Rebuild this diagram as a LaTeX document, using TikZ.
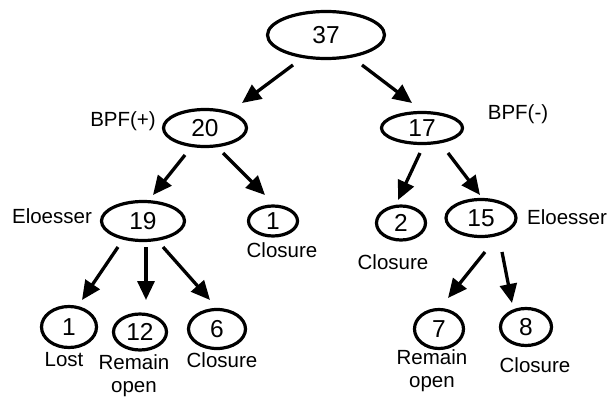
\documentclass[tikz,border=0pt]{standalone}
\usepackage{fontspec}
\setmainfont{Liberation Sans}
\usetikzlibrary{arrows.meta,calc,shapes.geometric}

\tikzset{
  count/.style={draw, ellipse, line width=3.2pt, inner sep=0pt,
    font=\fontsize{24.5}{24}\selectfont},
  lbl/.style={inner sep=0pt, align=center,
    font=\fontsize{20.5}{23}\selectfont},
  arr/.style={line width=3.3pt,
    -{Triangle[length=19pt,width=17pt]}},
}

\begin{document}
\begin{tikzpicture}[x=1pt,y=-1pt]
\useasboundingbox (0,0) rectangle (610,401);

% outcome counts
\node[count, minimum width=117pt, minimum height=47pt] (n37) at (326,35) {37};
\node[count, minimum width=83pt, minimum height=37pt] (n20) at (205,128) {20};
\node[count, minimum width=81pt, minimum height=31pt] (n17) at (422,128) {17};
\node[count, minimum width=83pt, minimum height=39pt] (n19) at (143,221) {19};
\node[count, minimum width=49pt, minimum height=30pt] (n1a) at (273,221) {1};
\node[count, minimum width=49pt, minimum height=34pt] (n2) at (401,223) {2};
\node[count, minimum width=70pt, minimum height=37pt] (n15) at (481,218) {15};
\node[count, minimum width=55pt, minimum height=41pt] (n1b) at (69,327) {1};
\node[count, minimum width=53pt, minimum height=36pt] (n12) at (140,332) {12};
\node[count, minimum width=57pt, minimum height=39pt] (n6) at (217,329) {6};
\node[count, minimum width=49pt, minimum height=39pt] (n7) at (439,329) {7};
\node[count, minimum width=51pt, minimum height=37pt] (n8) at (526,327) {8};

% labels
\node[lbl] (lbpfp) at (123,121) {BPF(+)};
\node[lbl] (lbpfm) at (518,114) {BPF(-)};
\node[lbl] (lelo1) at (52,216) {Eloesser};
\node[lbl] (lelo2) at (567,217) {Eloesser};
\node[lbl] (lcl1) at (282,250) {Closure};
\node[lbl] (lcl2) at (393,262) {Closure};
\node[lbl] (llost) at (64,360) {Lost};
\node[lbl, anchor=north] (lrem1) at (134,354) {Remain\\open};
\node[lbl] (lcl3) at (222,360) {Closure};
\node[lbl, anchor=north] (lrem2) at (432,349) {Remain\\open};
\node[lbl] (lcl4) at (535,365) {Closure};

% branches
\draw[arr] ($(n37)+(-33,30)$) -- ($(n20)+(37,-25)$);
\draw[arr] ($(n37)+(36,30)$) -- ($(n17)+(-10,-25)$);
\draw[arr] ($(n20)+(-20,27)$) -- ($(n19)+(10,-26)$);
\draw[arr] ($(n20)+(18,25)$) -- ($(n1a)+(-8,-26)$);
\draw[arr] ($(n17)+(-2,25)$) -- ($(n2)+(-3,-23)$);
\draw[arr] ($(n17)+(26,25)$) -- ($(n15)+(-1,-23)$);
\draw[arr] ($(n19)+(-25,26)$) -- ($(n1b)+(13,-27)$);
\draw[arr] ($(n19)+(3,26)$) -- ($(n12)+(6,-32)$);
\draw[arr] ($(n19)+(20,26)$) -- ($(n6)+(-7,-29)$);
\draw[arr] ($(n15)+(4,34)$) -- ($(n7)+(9,-31)$);
\draw[arr] ($(n15)+(21,34)$) -- ($(n8)+(-14,-24)$);
\end{tikzpicture}
\end{document}
